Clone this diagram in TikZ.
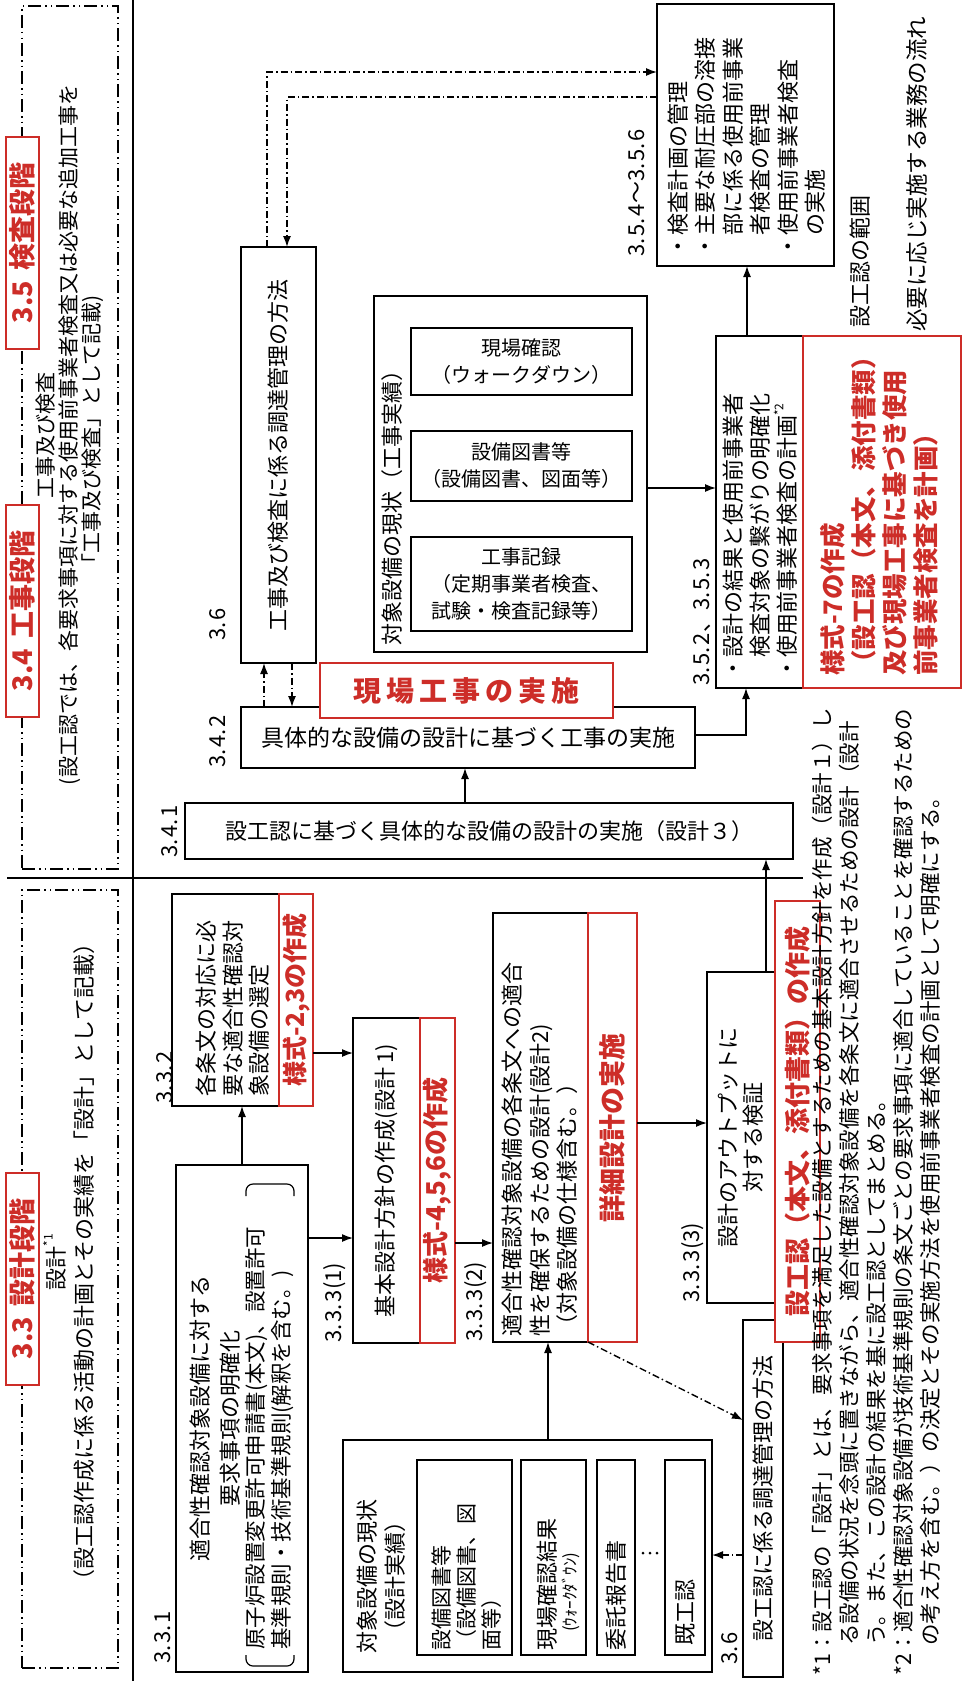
\documentclass[tikz,border=0pt]{standalone}
\usepackage{fontspec}
\newfontfamily\jp{Noto Sans CJK JP}
\usetikzlibrary{arrows.meta}
\definecolor{myred}{RGB}{205,45,40}
\newcommand\fsz[2]{\fontsize{#1}{#2}\selectfont}
\newcommand\supx[1]{\raisebox{0.55em}{\fsz{12}{12}#1}}
\begin{document}
\begin{tikzpicture}[x=1pt,y=1pt,
  box/.style={draw, line width=1.4pt, fill=white, inner sep=0pt, outer sep=0pt},
  rbox/.style={draw=myred, line width=1.4pt, fill=white, inner sep=0pt, outer sep=0pt},
  ibox/.style={draw, line width=1.4pt, inner sep=0pt, outer sep=0pt},
  stg/.style={draw, line width=1.1pt, inner sep=0pt, outer sep=0pt, dash pattern=on 13pt off 4pt on 1.5pt off 4pt on 1.5pt off 4pt},
  rt/.style={rotate=90, inner sep=0pt, font=\jp\fsz{22}{27}, align=left},
  ut/.style={inner sep=0pt, font=\jp\fsz{22}{27}, align=center},
  lbl/.style={rotate=90, inner sep=0pt, font=\jp\fsz{22}{26}, anchor=west},
  redt/.style={text=myred, font=\jp\bfseries\fsz{26}{31}},
  stlab/.style={rotate=90, draw=myred, line width=1.2pt, fill=white, minimum width=212pt, minimum height=33pt, inner sep=0pt, text=myred, font=\jp\bfseries\fsz{27}{30}},
  arr/.style={line width=1.4pt, -{Latex[length=11pt,width=8pt]}},
  darr/.style={arr, dash pattern=on 7pt off 3pt on 1.5pt off 3pt},
]
\useasboundingbox (0,0) rectangle (964,-1681);
\fill[white] (0,0) rectangle (964,-1681);

% ---------- stage frames ----------
\node[stg, minimum width=96pt, minimum height=863pt] (stA) at (70,-437.5) {};
\node[stg, minimum width=96pt, minimum height=778pt] (stB) at (70,-1279) {};
\node[stlab] (lab35) at (22.5,-243) {3.5\hspace{10pt}検査段階};
\node[stlab] (lab34) at (22.5,-611) {3.4\hspace{10pt}工事段階};
\node[stlab] (lab33) at (22.5,-1279) {3.3\hspace{10pt}設計段階};
\node[rotate=90, inner sep=0pt, font=\jp\fsz{21}{23}, align=center] (d34) at (70,-435)
  {工事及び検査\\(設工認では、各要求事項に対する使用前事業者検査又は必要な追加工事を\\「工事及び検査」として記載)};
\node[rotate=90, inner sep=0pt, font=\jp\fsz{22}{28}, align=center] (d33) at (69,-1262)
  {設計\supx{*1}\\（設工認作成に係る活動の計画とその実績を「設計」として記載）};

% ---------- dividers ----------
\draw[line width=1.4pt] (133,0) -- (133,-1681);
\draw[line width=1.4pt] (7,-878) -- (803,-878);

% ---------- 3.3 boxes ----------
\node[box, minimum width=132pt, minimum height=507pt] (b331) at (242,-1418.5) {};
\node[box, minimum width=107pt, minimum height=212pt] (b332) at (225.5,-1000) {};
\node[rbox, minimum width=34pt, minimum height=212pt] (r332) at (296,-1000) {};
\node[box, minimum width=67pt, minimum height=325pt] (b3331) at (386.5,-1180.5) {};
\node[rbox, minimum width=35pt, minimum height=325pt] (r3331) at (437.5,-1180.5) {};
\node[box, minimum width=95pt, minimum height=429pt] (b3332) at (540.5,-1127.5) {};
\node[rbox, minimum width=49pt, minimum height=429pt] (r3332) at (612.5,-1127.5) {};
\node[box, minimum width=68pt, minimum height=331pt] (b3333) at (741,-1137.5) {};
\node[box, minimum width=40pt, minimum height=357pt] (cho2) at (763,-1498.5) {};
\node[rbox, minimum width=45pt, minimum height=441pt] (r3333) at (797.5,-1121.5) {};
\node[box, minimum width=369pt, minimum height=232pt] (jis1) at (527.5,-1556) {};
\node[ibox, minimum width=95pt, minimum height=195pt] (in1) at (464.5,-1557.5) {};
\node[ibox, minimum width=65pt, minimum height=195pt] (in2) at (553.5,-1557.5) {};
\node[ibox, minimum width=38pt, minimum height=195pt] (in3) at (616,-1557.5) {};
\node[ibox, minimum width=40pt, minimum height=195pt] (in4) at (685,-1557.5) {};

% ---------- 3.4 / 3.5 boxes ----------
\node[box, minimum width=75pt, minimum height=416pt] (cho1) at (278.5,-455) {};
\node[box, minimum width=608pt, minimum height=56pt] (b341) at (489,-831) {};
\node[box, minimum width=454pt, minimum height=61pt] (b342) at (468,-737.5) {};
\node[rbox, minimum width=293pt, minimum height=55pt] (genba) at (466.5,-690.5) {};
\node[box, minimum width=273pt, minimum height=356pt] (jis2) at (510.5,-474) {};
\node[ibox, minimum width=221pt, minimum height=94pt] (k1) at (521.5,-584) {};
\node[ibox, minimum width=221pt, minimum height=70pt] (k2) at (521.5,-466) {};
\node[ibox, minimum width=221pt, minimum height=67pt] (k3) at (521.5,-361.5) {};
\node[box, minimum width=87pt, minimum height=352pt] (b352) at (759.5,-512) {};
\node[rbox, minimum width=158pt, minimum height=352pt] (r352) at (882,-512) {};
\node[box, minimum width=177pt, minimum height=262pt] (b35) at (745.5,-135) {};

% ---------- 3.3 texts ----------
\node[rt, align=center, font=\jp\fsz{22}{30}] (t331a) at (215,-1418) {適合性確認対象設備に対する\\要求事項の明確化};
\node[rt, anchor=west, font=\jp\fsz{21.5}{26}] (t331b) at (270,-1650) {原子炉設置変更許可申請書(本文)、設置許可\\基準規則・技術基準規則(解釈を含む。)};
\draw[line width=1.2pt, rounded corners=7pt] (246,-1655) -- (246,-1666) -- (294,-1666) -- (294,-1655);
\draw[line width=1.2pt, rounded corners=7pt] (246,-1196) -- (246,-1184) -- (294,-1184) -- (294,-1196);
\node[lbl] (l331) at (163,-1664) {3.\hspace{2pt}3.\hspace{2pt}1};
\node[rt, anchor=west, font=\jp\fsz{22}{26.5}] (t332) at (233,-1097) {各条文の対応に必\\要な適合性確認対\\象設備の選定};
\node[rt, redt, font=\jp\bfseries\fsz{25}{30}] (tr332) at (r332) {様式-2,3の作成};
\node[lbl] (l332) at (165,-1104) {3.\hspace{2pt}3.\hspace{2pt}2};
\node[rt, align=center] (t3331) at (b3331) {基本設計方針の作成(設計\hspace{4pt}1)};
\node[rt, redt] (tr3331) at (r3331) {様式-4,5,6の作成};
\node[lbl] (l3331) at (335,-1343) {3.\hspace{2pt}3.\hspace{2pt}3(1)};
\node[rt, anchor=west, font=\jp\fsz{22}{27.5}] (t3332) at (540,-1337) {適合性確認対象設備の各条文への適合\\性を確保するための設計(設計2)\\（対象設備の仕様含む。）};
\node[rt, redt, font=\jp\bfseries\fsz{27}{30}] (tr3332) at (r3332) {詳細設計の実施};
\node[lbl] (l3332) at (476,-1342) {3.\hspace{2pt}3.\hspace{2pt}3(2)};
\node[rt, align=center, font=\jp\fsz{22}{25}] (t3333) at (b3333) {設計のアウトプットに\\対する検証};
\node[rt, redt, font=\jp\bfseries\fsz{26}{30}] (tr3333) at (r3333) {設工認（本文、添付書類）の作成};
\node[lbl] (l3333) at (693,-1303) {3.\hspace{2pt}3.\hspace{2pt}3(3)};
\node[rt, align=center] (tcho2) at (cho2) {設工認に係る調達管理の方法};
\node[lbl] (l36b) at (730,-1665) {3.\hspace{2pt}6};
\node[rt, align=center, font=\jp\fsz{22}{28}] (tjis1) at (381,-1576) {対象設備の現状\\（設計実績）};
\node[rt, anchor=west, font=\jp\fsz{21}{25}] (tin1) at (467,-1651) {設備図書等\\（設備図書、図\\面等）};
\node[rt, anchor=west] (tin2a) at (547,-1651) {現場確認結果};
\node[rt, anchor=west, font=\jp\fsz{17}{20}] (tin2b) at (571,-1632) {(ｳｫｰｸﾀﾞｳﾝ)};
\node[rt, anchor=west] (tin3) at (616,-1651) {委託報告書};
\node[rt, anchor=west] (tin4) at (686,-1646) {既工認};
\fill (643,-1553) circle (1.5pt) (650,-1553) circle (1.5pt) (657,-1553) circle (1.5pt);

% ---------- 3.4 / 3.5 texts ----------
\node[rt, align=center] (tcho1) at (cho1) {工事及び検査に係る調達管理の方法};
\node[lbl] (l36a) at (218,-641) {3.\hspace{2pt}6};
\node[ut] (t341) at (b341) {設工認に基づく具体的な設備の設計の実施（設計３）};
\node[lbl] (l341) at (170,-858) {3.\hspace{2pt}4.\hspace{2pt}1};
\node[ut, font=\jp\fsz{23}{27}] (t342) at (b342) {具体的な設備の設計に基づく工事の実施};
\node[lbl] (l342) at (218,-768) {3.\hspace{2pt}4.\hspace{2pt}2};
\node[ut, text=myred, font=\jp\bfseries\fsz{28}{30}] (tgenba) at (genba) {現\kern5pt 場\kern5pt 工\kern5pt 事\kern5pt の\kern5pt 実\kern5pt 施};
\node[rt, anchor=west] (tjis2) at (392,-646) {対象設備の現状（工事実績）};
\node[ut, font=\jp\fsz{20}{27}] (tk1) at (k1) {工事記録\\（定期事業者検査、\\試験・検査記録等）};
\node[ut, font=\jp\fsz{20}{27}] (tk2) at (k2) {設備図書等\\（設備図書、図面等）};
\node[ut, font=\jp\fsz{20}{27}] (tk3) at (k3) {現場確認\\（ウォークダウン）};
\node[rt, anchor=west] (t352) at (760,-680) {・設計の結果と使用前事業者\\　検査対象の繋がりの明確化\\・使用前事業者検査の計画\supx{*2}};
\node[rt, anchor=west, redt, font=\jp\bfseries\fsz{25.5}{31}] (tr352) at (879,-676) {様式-7の作成\\（設工認（本文、添付書類）\\及び現場工事に基づき使用\\前事業者検査を計画）};
\node[lbl] (l352) at (702,-686) {3.\hspace{2pt}5.\hspace{2pt}2、3.\hspace{2pt}5.\hspace{2pt}3};
\node[rt, anchor=west, font=\jp\fsz{22}{27.4}] (t35) at (746.5,-258) {・検査計画の管理\\・主要な耐圧部の溶接\\　部に係る使用前事業\\　者検査の管理\\・使用前事業者検査\\　の実施};
\node[lbl] (l35) at (637,-257) {3.\hspace{2pt}5.\hspace{2pt}4〜3.\hspace{2pt}5.\hspace{2pt}6};
\node[lbl] (side1) at (860,-328) {設工認の範囲};
\node[lbl, font=\jp\fsz{22.5}{26}] (side2) at (917,-332) {必要に応じ実施する業務の流れ};

% ---------- connectors ----------
\draw[arr] (b331.north -| 242,0) -- (b332.south -| 242,0);
\draw[arr] (b331.east |- 0,-1238) -- (b3331.west |- 0,-1238);
\draw[arr] (r332.east |- 0,-1053) -- (b3331.west |- 0,-1053);
\draw[arr] (r3331.east |- 0,-1243) -- (b3332.west |- 0,-1243);
\draw[arr] (jis1.north -| 548,0) -- (b3332.south -| 548,0);
\draw[arr] (r3332.east |- 0,-1123) -- (b3333.west |- 0,-1123);
\draw[darr] (b3332.south east) -- (cho2.west |- 0,-1420);
\draw[darr] (cho2.west |- 0,-1555) -- (jis1.east |- 0,-1555);
\draw[arr] (b3333.north -| 766,0) -- (b341.south -| 766,0);
\draw[arr] (b341.north -| 465,0) -- (b342.south -| 465,0);
\draw[arr] (b342.east |- 0,-735) -| (b352.south -| 746,0);
\draw[darr] (b342.north -| 264,0) -- (cho1.south -| 264,0);
\draw[darr] (cho1.south -| 292,0) -- (b342.north -| 292,0);
\draw[arr] (jis2.east |- 0,-488) -- (b352.west |- 0,-488);
\draw[darr] (cho1.north -| 267,0) |- (b35.west |- 0,-72);
\draw[darr] (b35.west |- 0,-97) -| (cho1.north -| 287,0);
\draw[arr] (b352.north -| 747,0) -- (b35.south -| 747,0);

% ---------- footnotes ----------
\node[rt, anchor=west, font=\jp\fsz{21.5}{27}] (fn) at (876,-1676)
  {*1：設工認の「設計」とは、要求事項を満足した設備とするための基本設計方針を作成（設計１）し\\\hspace*{30pt}る設備の状況を念頭に置きながら、適合性確認対象設備を各条文に適合させるための設計（設計\\\hspace*{30pt}う。また、この設計の結果を基に設工認としてまとめる。\\{}*2：適合性確認対象設備が技術基準規則の条文ごとの要求事項に適合していることを確認するための\\\hspace*{30pt}の考え方を含む。）の決定とその実施方法を使用前事業者検査の計画として明確にする。};
\end{tikzpicture}
\end{document}
